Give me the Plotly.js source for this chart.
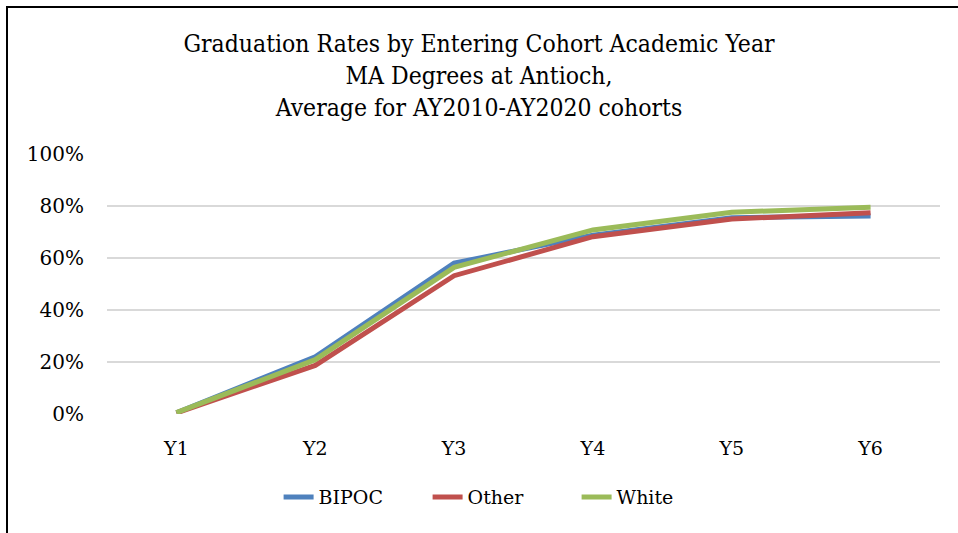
<!DOCTYPE html>
<html>
<head>
<meta charset="utf-8">
<script src="https://cdn.plot.ly/plotly-3.0.1.min.js"></script>
<style>
html,body{margin:0;padding:0;background:#fff;}
#wrap{position:relative;width:958px;height:533px;overflow:hidden;}
#chart{position:absolute;left:0;top:0;width:958px;height:533px;}
#frame{position:absolute;left:6px;top:6px;width:960px;height:540px;border-left:2px solid #000;border-top:2px solid #000;pointer-events:none;}
</style>
</head>
<body>
<div id="wrap"><div id="chart"></div><div id="frame"></div></div>
<script>
const categories = ["Y1", "Y2", "Y3", "Y4", "Y5", "Y6"];
const bipoc = [0.005, 0.22, 0.58, 0.688, 0.755, 0.762];
const other = [0.004, 0.187, 0.532, 0.682, 0.750, 0.774];
const white = [0.005, 0.209, 0.564, 0.708, 0.776, 0.795];
const seriesNames = ["BIPOC", "Other", "White"];
const yTicks = [0, 0.2, 0.4, 0.6, 0.8, 1.0];
const yTickText = ["0%", "20%", "40%", "60%", "80%", "100%"];
const titleLines = ["Graduation Rates by Entering Cohort Academic Year", "MA Degrees at Antioch,", "Average for AY2010-AY2020 cohorts"];

const colors = ["#4F81BD", "#C0504D", "#9BBB59"];
const serif = "DejaVu Serif, Liberation Serif, serif";
const data = [bipoc, other, white].map((vals, i) => ({
  x: categories, y: vals, name: seriesNames[i], type: "scatter", mode: "lines",
  line: {color: colors[i], width: 5}
}));

const layout = {
  width: 958, height: 533,
  paper_bgcolor: "#fff", plot_bgcolor: "#fff",
  margin: {l: 107, r: 18, t: 154, b: 119},
  title: {text: titleLines.join("<br>"), font: {family: "DejaVu Serif Condensed, Liberation Serif, serif", size: 24.5, color: "#000"},
          x: 0.5, xanchor: "center", y: 0.902, yanchor: "top"},
  showlegend: true,
  legend: {orientation: "h", x: 0.206, xanchor: "left", y: -0.32, yanchor: "middle",
           font: {family: serif, size: 19, color: "#000"},
           entrywidth: 104, entrywidthmode: "pixels"},
  xaxis: {type: "category", range: [-0.5, 5.5], showgrid: false, zeroline: false, showline: false, ticks: "",
          tickfont: {family: serif, size: 19, color: "#000"}, ticklabelstandoff: 21},
  yaxis: {range: [0, 1.0], tickvals: yTicks, ticktext: yTickText, showgrid: true,
          gridcolor: "#D9D9D9", gridwidth: 1.5, zeroline: false, showline: false, ticks: "",
          tickfont: {family: serif, size: 20, color: "#000"}, ticklabelstandoff: 22}
};
Plotly.newPlot("chart", data, layout, {displayModeBar: false, staticPlot: true});
</script>
</body>
</html>
